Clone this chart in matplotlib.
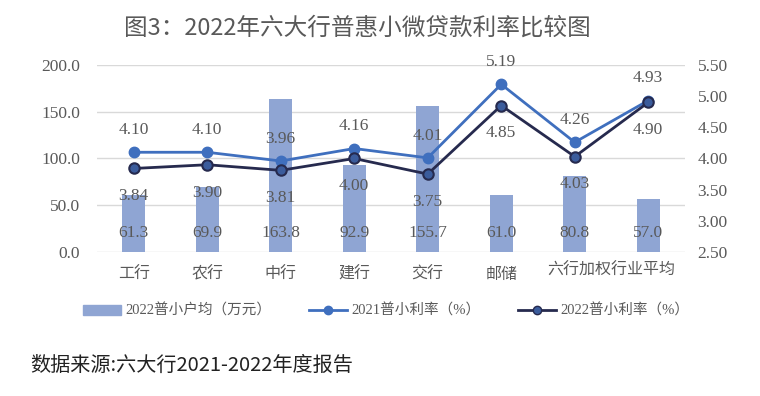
import matplotlib
matplotlib.use('Agg')
from matplotlib import pyplot as plt
from matplotlib.lines import Line2D
from matplotlib.patches import Patch
import numpy as np

# data
banks = ['工行', '农行', '中行', '建行', '交行', '邮储', '六行加权', '行业平均']
avg_loan = [61.3, 69.9, 163.8, 92.9, 155.7, 61.0, 80.8, 57.0]
rate_2021 = [4.10, 4.10, 3.96, 4.16, 4.01, 5.19, 4.26, 4.93]
rate_2022 = [3.84, 3.90, 3.81, 4.00, 3.75, 4.85, 4.03, 4.90]
left_ticks = [0, 50, 100, 150, 200]
right_ticks = [2.5, 3.0, 3.5, 4.0, 4.5, 5.0, 5.5]

num_font = ['Liberation Serif', 'Noto Sans CJK SC']
plt.rcParams['font.family'] = num_font

c_bar = '#8fa5d3'
c_21 = '#3f6fbe'
c_22 = '#262a4e'
c_22m = '#3b5c9c'
grey = '#595959'

fig = plt.figure(figsize=(7.6, 3.96), dpi=100)
ax = fig.add_axes([0.1276, 0.3636, 0.7737, 0.4723])
ax2 = ax.twinx()

x = np.arange(len(banks))
ax.bar(x, avg_loan, width=0.31, color=c_bar, zorder=2)
ax.set_ylim(0, 200)
ax.set_xlim(-0.5, len(banks) - 0.5)
ax.set_yticks(left_ticks)
ax.set_yticklabels([f'{v:.1f}' for v in left_ticks])
ax.yaxis.grid(True, color='#d9d9d9', lw=1)
ax.set_axisbelow(True)
ax.set_xticks(x)
# last two slots share one long label
ax.set_xticklabels(banks[:6] + ['', ''])
ax.tick_params(axis='y', length=0, colors=grey, labelsize=12.5, pad=12)
ax.tick_params(axis='x', length=0, colors=grey, pad=10)
for s in ax.spines.values():
    s.set_visible(False)
ax.text(6.5, -0.05, banks[6] + banks[7], transform=ax.get_xaxis_transform(),
        ha='center', va='top', fontsize=11.5, color=grey,
        family=['Noto Sans CJK SC'])
for lbl in ax.get_xticklabels():
    lbl.set_family(['Noto Sans CJK SC'])
    lbl.set_fontsize(11.5)

for i, v in enumerate(avg_loan):
    ax.annotate(f'{v:.1f}', (i, 0), xytext=(0, 14), textcoords='offset points',
                ha='center', va='center', fontsize=12.5, color=grey)

ax2.plot(x, rate_2021, color=c_21, lw=2, marker='o', ms=7.5,
         mfc=c_21, mec=c_21, zorder=3)
ax2.plot(x, rate_2022, color=c_22, lw=2, marker='o', ms=7.5,
         mfc=c_22m, mec=c_22, mew=1.5, zorder=4)
ax2.set_ylim(2.5, 5.5)
ax2.set_yticks(right_ticks)
ax2.set_yticklabels([f'{v:.2f}' for v in right_ticks])
ax2.tick_params(length=0, colors=grey, labelsize=12.5, pad=9)
for s in ax2.spines.values():
    s.set_visible(False)

for i, v in enumerate(rate_2021):
    ax2.annotate(f'{v:.2f}', (i, v), xytext=(0, 16), textcoords='offset points',
                 ha='center', va='center', fontsize=12.5, color=grey)
for i, v in enumerate(rate_2022):
    ax2.annotate(f'{v:.2f}', (i, v), xytext=(0, -20), textcoords='offset points',
                 ha='center', va='center', fontsize=12.5, color=grey)

fig.text(0.47, 0.93, '图3：2022年六大行普惠小微贷款利率比较图', ha='center', va='center',
         fontsize=17, color=grey, family=['Noto Sans CJK SC'])

handles = [
    Patch(color=c_bar),
    Line2D([0], [0], color=c_21, lw=2, marker='o', ms=6, mfc=c_21, mec=c_21),
    Line2D([0], [0], color=c_22, lw=2, marker='o', ms=6, mfc=c_22m, mec=c_22),
]
labels = ['2022普小户均（万元）', '2021普小利率（%）', '2022普小利率（%）']
fig.legend(handles, labels, loc='center', bbox_to_anchor=(0.508, 0.215), ncol=3,
           frameon=False, labelcolor=grey, handlelength=2.6,
           columnspacing=2.6, handletextpad=0.3,
           prop={'family': num_font, 'size': 10.5})

fig.text(0.04, 0.078, '数据来源:六大行2021-2022年度报告', ha='left', va='center',
         fontsize=14.5, color='#222222', family=['Noto Sans CJK SC'])

fig.savefig('out.png', dpi=100)
